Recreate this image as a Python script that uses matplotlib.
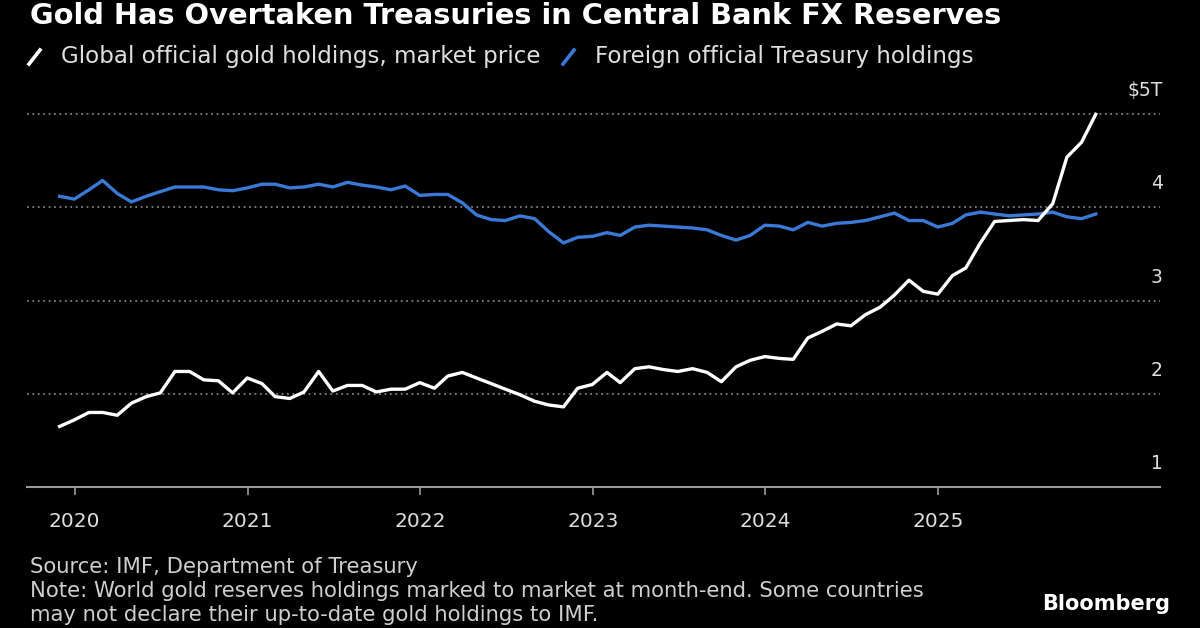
import matplotlib
matplotlib.use("Agg")
import matplotlib.pyplot as plt
from matplotlib.lines import Line2D
import pandas as pd

# monthly values, $ trillions
months = pd.date_range("2019-11-30", periods=73, freq="ME")
gold = [
    1.65, 1.72, 1.80, 1.80, 1.77, 1.90, 1.97, 2.01, 2.24, 2.24, 2.15, 2.14,
    2.01, 2.17, 2.11, 1.97, 1.95, 2.02, 2.24, 2.03, 2.09, 2.09, 2.02, 2.05,
    2.05, 2.12, 2.06, 2.19, 2.23, 2.17, 2.11, 2.05, 1.99, 1.92, 1.88, 1.86,
    2.06, 2.10, 2.23, 2.12, 2.27, 2.29, 2.26, 2.24, 2.27, 2.23, 2.13, 2.29,
    2.36, 2.40, 2.38, 2.37, 2.60, 2.67, 2.75, 2.73, 2.85, 2.93, 3.06, 3.22,
    3.10, 3.07, 3.27, 3.35, 3.62, 3.85, 3.86, 3.87, 3.86, 4.04, 4.54, 4.70,
    5.00,
]
treasury = [
    4.12, 4.09, 4.19, 4.29, 4.15, 4.06, 4.12, 4.17, 4.22, 4.22, 4.22, 4.19,
    4.18, 4.21, 4.25, 4.25, 4.21, 4.22, 4.25, 4.22, 4.27, 4.24, 4.22, 4.19,
    4.23, 4.13, 4.14, 4.14, 4.05, 3.92, 3.87, 3.86, 3.91, 3.88, 3.74, 3.62,
    3.68, 3.69, 3.73, 3.70, 3.79, 3.81, 3.80, 3.79, 3.78, 3.76, 3.70, 3.65,
    3.70, 3.81, 3.80, 3.76, 3.84, 3.80, 3.83, 3.84, 3.86, 3.90, 3.94, 3.86,
    3.86, 3.79, 3.83, 3.92, 3.95, 3.93, 3.91, 3.92, 3.93, 3.95, 3.90, 3.88,
    3.93,
]
year_ticks = pd.to_datetime([f"{y}-01-01" for y in range(2020, 2026)])
year_labels = [str(y) for y in range(2020, 2026)]
y_ticks = [1, 2, 3, 4, 5]
y_labels = ["1", "2", "3", "4", "$5T"]

GOLD_COLOR = "white"
TSY_COLOR = "#3a7ad6"
TEXT_COLOR = "#dedede"
W, H = 1200, 628

fig = plt.figure(figsize=(12, 6.28), dpi=100, facecolor="black")
ax = fig.add_axes([27 / W, 1 - 487 / H, 1133 / W, 382 / H])
ax.set_facecolor("black")

for v in y_ticks[1:]:
    ax.axhline(v, color="#808080", lw=1.3, ls=(0, (1, 2)), zorder=1)

ax.plot(months, treasury, color=TSY_COLOR, lw=2.4, solid_joinstyle="round", zorder=3)
ax.plot(months, gold, color=GOLD_COLOR, lw=2.4, solid_joinstyle="round", zorder=4)

ax.set_xlim(pd.Timestamp("2019-09-22"), pd.Timestamp("2026-04-15"))
ax.set_ylim(1, 5.1)

for side in ["top", "left", "right"]:
    ax.spines[side].set_visible(False)
ax.spines["bottom"].set_color("#9a9a9a")
ax.spines["bottom"].set_linewidth(1.5)

ax.set_yticks([])
ax.set_xticks(year_ticks, year_labels)
ax.tick_params(axis="x", direction="out", length=6, width=1.2, color="#9a9a9a",
               labelcolor=TEXT_COLOR, labelsize=14.5, pad=12)

for v, lab in zip(y_ticks, y_labels):
    ax.annotate(lab, xy=(1.0, v), xycoords=("axes fraction", "data"),
                xytext=(2, 17), textcoords="offset points",
                ha="right", va="center", color=TEXT_COLOR, fontsize=13.5)

fig.text(30 / W, 1 - 24 / H, "Gold Has Overtaken Treasuries in Central Bank FX Reserves",
         color="white", fontsize=20.8, fontweight="bold", va="baseline")

# legend: slash markers + labels
fig.add_artist(Line2D([29 / W, 40 / W], [1 - 64 / H, 1 - 50 / H],
                      transform=fig.transFigure, color=GOLD_COLOR, lw=2.6))
fig.text(61 / W, 1 - 57 / H, "Global official gold holdings, market price",
         color=TEXT_COLOR, fontsize=16.6, va="center")
fig.add_artist(Line2D([563 / W, 574 / W], [1 - 64 / H, 1 - 50 / H],
                      transform=fig.transFigure, color=TSY_COLOR, lw=2.6))
fig.text(595 / W, 1 - 57 / H, "Foreign official Treasury holdings",
         color=TEXT_COLOR, fontsize=16.6, va="center")

notes = [
    "Source: IMF, Department of Treasury",
    "Note: World gold reserves holdings marked to market at month-end. Some countries",
    "may not declare their up-to-date gold holdings to IMF.",
]
for k, line in enumerate(notes):
    fig.text(30 / W, 1 - (567 + 24 * k) / H, line, color="#cfcfcf", fontsize=15.2, va="center")

fig.text(1170 / W, 1 - 604 / H, "Bloomberg", color="white", fontsize=15,
         fontweight="bold", ha="right", va="center")

fig.savefig("out.png", dpi=100, facecolor="black")
